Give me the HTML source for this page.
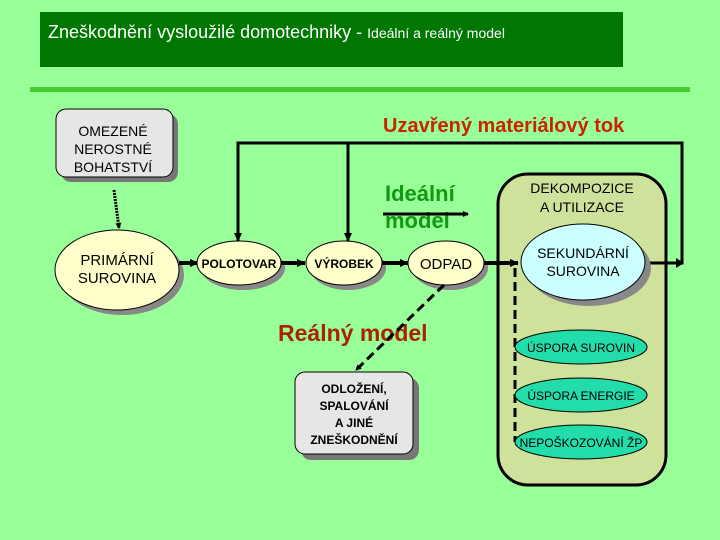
<!DOCTYPE html>
<html><head><meta charset="utf-8"><style>
html,body{margin:0;padding:0;background:#99ff99;}
svg{display:block;}
text{font-family:"Liberation Sans",sans-serif;}
</style></head><body>
<svg width="720" height="540" viewBox="0 0 720 540" xmlns="http://www.w3.org/2000/svg">
<defs>
<marker id="ah" markerWidth="6" markerHeight="6" refX="5" refY="3" orient="auto" markerUnits="userSpaceOnUse"><path d="M0,0 L6,3 L0,6 z" fill="#000"/></marker>
<marker id="ah2" markerWidth="9" markerHeight="8" refX="8" refY="4" orient="auto" markerUnits="userSpaceOnUse"><path d="M0,0 L9,4 L0,8 z" fill="#000"/></marker>
</defs>
<rect x="0" y="0" width="720" height="540" fill="#99ff99"/>
<rect x="40" y="12" width="583" height="55" fill="#007700"/>
<text x="48" y="38" fill="#fff" font-size="18">Zneškodnění vysloužilé domotechniky - <tspan font-size="14">Ideální a reálný model</tspan></text>
<rect x="30" y="87" width="660" height="5" fill="#44cc33"/>

<rect x="498" y="174" width="168" height="311" rx="30" fill="#cfe29b" stroke="#000" stroke-width="3"/>
<text x="582" y="193" font-size="14" text-anchor="middle">DEKOMPOZICE</text>
<text x="582" y="212" font-size="14" text-anchor="middle">A UTILIZACE</text>

<polyline points="642,263 682,263 682,143 238,143 238,241" fill="none" stroke="#000" stroke-width="3" marker-end="url(#ah2)"/>
<line x1="348" y1="143" x2="348" y2="241" stroke="#000" stroke-width="3" marker-end="url(#ah2)"/>
<path d="M676,258 L684,263 L676,268z" fill="#000"/>

<rect x="61" y="114" width="117" height="68" rx="10" fill="#777"/>
<rect x="56" y="109" width="117" height="68" rx="10" fill="#e6e6e6" stroke="#000" stroke-width="1"/>
<text x="113" y="136" font-size="14" text-anchor="middle">OMEZENÉ</text>
<text x="113" y="154" font-size="14" text-anchor="middle">NEROSTNÉ</text>
<text x="113" y="172" font-size="14" text-anchor="middle">BOHATSTVÍ</text>
<line x1="114" y1="190" x2="119" y2="228" stroke="#000" stroke-width="3" stroke-dasharray="2,1" marker-end="url(#ah)"/>

<ellipse cx="122" cy="275" rx="62" ry="40" fill="#888"/>
<ellipse cx="117" cy="270" rx="62" ry="40" fill="#ffffcc" stroke="#000"/>
<text x="117" y="265" font-size="15" text-anchor="middle">PRIMÁRNÍ</text>
<text x="117" y="283" font-size="15" text-anchor="middle">SUROVINA</text>
<line x1="179" y1="263" x2="198" y2="263" stroke="#000" stroke-width="4" marker-end="url(#ah2)"/>

<ellipse cx="243" cy="268" rx="42" ry="22" fill="#888"/>
<ellipse cx="239" cy="263" rx="42" ry="22" fill="#ffffcc" stroke="#000"/>
<text x="239" y="268" font-size="12" font-weight="bold" text-anchor="middle">POLOTOVAR</text>
<line x1="281" y1="263" x2="305" y2="263" stroke="#000" stroke-width="4" marker-end="url(#ah2)"/>

<ellipse cx="348" cy="268" rx="38" ry="22" fill="#888"/>
<ellipse cx="344" cy="263" rx="38" ry="22" fill="#ffffcc" stroke="#000"/>
<text x="344" y="268" font-size="12" font-weight="bold" text-anchor="middle">VÝROBEK</text>
<line x1="382" y1="263" x2="408" y2="263" stroke="#000" stroke-width="4" marker-end="url(#ah2)"/>

<ellipse cx="450" cy="268" rx="38" ry="22" fill="#888"/>
<ellipse cx="446" cy="263" rx="38" ry="22" fill="#ffffcc" stroke="#000"/>
<text x="446" y="269" font-size="15" text-anchor="middle">ODPAD</text>
<line x1="484" y1="263" x2="518" y2="263" stroke="#000" stroke-width="4" marker-end="url(#ah2)"/>

<ellipse cx="589" cy="268" rx="62" ry="38" fill="#888"/>
<ellipse cx="583" cy="262" rx="62" ry="38" fill="#ccffff" stroke="#000"/>
<text x="583" y="258" font-size="14" text-anchor="middle">SEKUNDÁRNÍ</text>
<text x="583" y="276" font-size="14" text-anchor="middle">SUROVINA</text>

<line x1="515" y1="268" x2="515" y2="442" stroke="#000" stroke-width="3" stroke-dasharray="9,5"/>
<ellipse cx="581" cy="347" rx="66" ry="17" fill="#22ddaa" stroke="#000"/>
<text x="581" y="352" font-size="12" text-anchor="middle">ÚSPORA SUROVIN</text>
<ellipse cx="581" cy="395" rx="66" ry="17" fill="#22ddaa" stroke="#000"/>
<text x="581" y="400" font-size="12" text-anchor="middle">ÚSPORA ENERGIE</text>
<ellipse cx="581" cy="442" rx="66" ry="17" fill="#22ddaa" stroke="#000"/>
<text x="581" y="447" font-size="12" text-anchor="middle">NEPOŠKOZOVÁNÍ ŽP</text>

<text x="383" y="132" font-size="20" font-weight="bold" fill="#cc2200">Uzavřený materiálový tok</text>
<text x="385" y="201" font-size="22" font-weight="bold" fill="#119911">Ideální</text>
<text x="385" y="228" font-size="22" font-weight="bold" fill="#119911">model</text>
<line x1="383" y1="214" x2="468" y2="214" stroke="#000" stroke-width="3" marker-end="url(#ah)"/>
<text x="278" y="341" font-size="23" font-weight="bold" fill="#aa2200">Reálný model</text>

<line x1="444" y1="285" x2="356" y2="370" stroke="#000" stroke-width="3" stroke-dasharray="9,5" stroke-linecap="butt" marker-end="url(#ah)"/>

<rect x="301" y="378" width="118" height="82" rx="10" fill="#777"/>
<rect x="295" y="372" width="118" height="82" rx="10" fill="#e6e6e6" stroke="#000"/>
<text x="354" y="393" font-size="12" font-weight="bold" text-anchor="middle">ODLOŽENÍ,</text>
<text x="354" y="410" font-size="12" font-weight="bold" text-anchor="middle">SPALOVÁNÍ</text>
<text x="354" y="427" font-size="12" font-weight="bold" text-anchor="middle">A JINÉ</text>
<text x="354" y="444" font-size="12" font-weight="bold" text-anchor="middle">ZNEŠKODNĚNÍ</text>
</svg>
</body></html>
